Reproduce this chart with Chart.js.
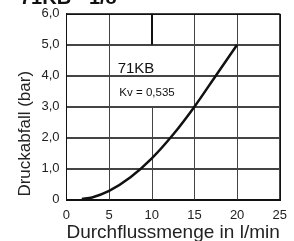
<!DOCTYPE html>
<html>
<head>
<meta charset="utf-8">
<script src="https://cdn.jsdelivr.net/npm/chart.js@4.4.1/dist/chart.umd.min.js"></script>
<style>
  html, body { margin: 0; padding: 0; background: #fff; }
  #wrap { position: relative; width: 294px; height: 241px; }
</style>
</head>
<body>
<div id="wrap"><canvas id="dpChart"></canvas></div>
<script>
(function() {
  'use strict';

  // Durchfluss (l/min) und Druckabfall (bar)
  const flowValues = [1.8, 3, 5, 7.5, 10, 12.5, 15, 17.5, 20];
  const pressureValues = [0.02, 0.07, 0.28, 0.72, 1.33, 2.1, 3.0, 4.0, 5.0];

  const xMin = 0, xMax = 25, xStep = 5;
  const yMin = 0, yMax = 6, yStep = 1;

  const titleText = '71KB - 1/8';
  const modelLabel = '71KB';
  const kvLabel = 'Kv = 0,535';
  const yTitle = 'Druckabfall (bar)';

  const FONT = '"Liberation Sans", Arial, Helvetica, sans-serif';
  const Y_TITLE_SIZE = 17;
  const GRID = '#444';

  // Gitter, Rahmen und Beschriftungen
  const overlay = {
    id: 'kvOverlay',
    beforeDatasetsDraw(chart) {
      const ctx = chart.ctx;
      const x = chart.scales.x, y = chart.scales.y;
      const snap = v => Math.round(v) + 0.5;
      const gapBottom = y.getPixelForValue(3);

      ctx.save();
      ctx.lineWidth = 1;
      ctx.strokeStyle = GRID;
      ctx.beginPath();
      x.ticks.forEach(function(t) {
        const px = snap(x.getPixelForValue(t.value));
        // hinter dem Textfeld (3..5 bar) keine Linie bei 10
        ctx.moveTo(px, t.value === 10 ? gapBottom : y.top);
        ctx.lineTo(px, y.bottom);
      });
      y.ticks.forEach(function(t) {
        const py = snap(y.getPixelForValue(t.value));
        ctx.moveTo(x.left, py);
        ctx.lineTo(x.right, py);
      });
      ctx.stroke();

      // Rahmen
      ctx.strokeStyle = '#111';
      ctx.strokeRect(snap(x.left), snap(y.top), Math.round(x.right) - Math.round(x.left), Math.round(y.bottom) - Math.round(y.top));

      // kräftiger Strich oben bei 10
      const px10 = Math.round(x.getPixelForValue(10));
      ctx.lineWidth = 2;
      ctx.beginPath();
      ctx.moveTo(px10, y.getPixelForValue(6));
      ctx.lineTo(px10, y.getPixelForValue(5));
      ctx.stroke();

      ctx.fillStyle = '#111';
      ctx.textBaseline = 'alphabetic';
      ctx.textAlign = 'left';
      ctx.font = '15px ' + FONT;
      ctx.fillText(modelLabel, x.getPixelForValue(6.0), y.getPixelForValue(4.1));
      ctx.font = '11.5px ' + FONT;
      ctx.fillText(kvLabel, x.getPixelForValue(6.2), y.getPixelForValue(3.33));
      ctx.restore();
    },
    afterDatasetsDraw(chart) {
      const ctx = chart.ctx;
      const y = chart.scales.y;
      ctx.save();
      // Y-Achsentitel, unten beginnend
      ctx.fillStyle = '#222';
      ctx.font = Y_TITLE_SIZE + 'px ' + FONT;
      ctx.textAlign = 'left';
      ctx.textBaseline = 'middle';
      ctx.translate(y.left + Y_TITLE_SIZE * 0.6, y.bottom - 3);
      ctx.rotate(-Math.PI / 2);
      ctx.fillText(yTitle, 0, 0);
      ctx.restore();

      ctx.save();
      ctx.fillStyle = '#111';
      ctx.font = 'bold 20px ' + FONT;
      ctx.textBaseline = 'alphabetic';
      ctx.textAlign = 'left';
      ctx.fillText(titleText, 20, 4);
      ctx.restore();
    }
  };

  new Chart(document.getElementById('dpChart'), {
    type: 'line',
    data: {
      datasets: [{
        data: flowValues.map((q, i) => ({ x: q, y: pressureValues[i] })),
        borderColor: '#111',
        borderWidth: 2.5,
        pointRadius: 0,
        cubicInterpolationMode: 'monotone',
        fill: false
      }]
    },
    options: {
      responsive: true,
      maintainAspectRatio: false,
      animation: false,
      layout: { padding: { top: 12, right: -7, left: 15, bottom: -3 } },
      plugins: {
        legend: { display: false },
        tooltip: { enabled: false }
      },
      scales: {
        x: {
          type: 'linear',
          min: xMin,
          max: xMax,
          grid: {
            color: c => (c.tick && c.tick.value === 10) ? 'rgba(0,0,0,0)' : GRID,
            tickColor: 'rgba(0,0,0,0)',
            tickLength: 1
          },
          border: { color: '#111' },
          ticks: {
            stepSize: xStep,
            padding: 7,
            color: '#222',
            font: { family: FONT, size: 13 },
            maxRotation: 0
          },
          title: {
            display: true,
            text: 'Durchflussmenge in l/min',
            color: '#222',
            font: { family: FONT, size: 19 },
            padding: { top: -9, bottom: 0 }
          }
        },
        y: {
          type: 'linear',
          min: yMin,
          max: yMax,
          grid: { color: GRID, tickColor: 'rgba(0,0,0,0)', tickLength: 1 },
          border: { color: '#111' },
          ticks: {
            stepSize: yStep,
            padding: 6,
            color: '#222',
            font: { family: FONT, size: 13 },
            callback: v => v === 0 ? '0' : v.toFixed(1).replace('.', ',')
          },
          // Platz für den selbst gezeichneten Titel
          title: {
            display: true,
            text: yTitle,
            color: 'rgba(0,0,0,0)',
            font: { family: FONT, size: Y_TITLE_SIZE },
            padding: { top: 0, bottom: 0 }
          }
        }
      }
    },
    plugins: [overlay]
  });
})();
</script>
</body>
</html>
